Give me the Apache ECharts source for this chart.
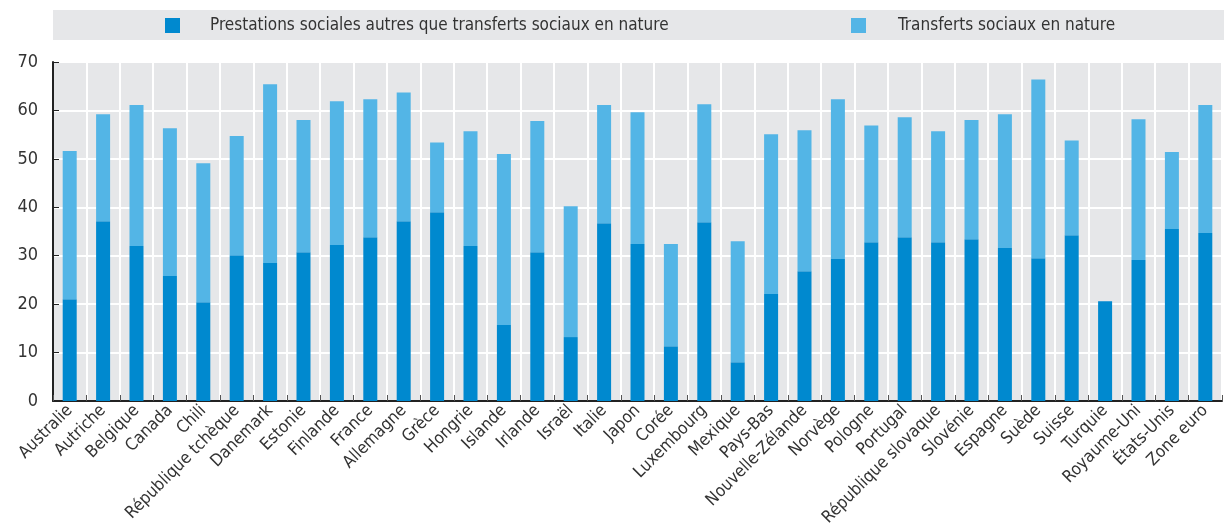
<!DOCTYPE html>
<html><head><meta charset="utf-8">
<script src="https://cdn.jsdelivr.net/npm/echarts@6/dist/echarts.min.js"></script>
<style>html,body{margin:0;padding:0;background:#fff}#c{width:1224px;height:531px}</style>
</head><body><div id="c"></div>
<script>
const categories = ["Australie","Autriche","Belgique","Canada","Chili","République tchèque","Danemark","Estonie","Finlande","France","Allemagne","Grèce","Hongrie","Islande","Irlande","Israël","Italie","Japon","Corée","Luxembourg","Mexique","Pays-Bas","Nouvelle-Zélande","Norvège","Pologne","Portugal","République slovaque","Slovénie","Espagne","Suède","Suisse","Turquie","Royaume-Uni","États-Unis","Zone euro"];
const prestations = [21.0,37.1,32.0,25.8,20.4,30.1,28.5,30.7,32.2,33.8,37.1,39.0,32.0,15.7,30.7,13.2,36.7,32.4,11.3,36.9,8.0,22.1,26.8,29.3,32.8,33.8,32.8,33.4,31.6,29.5,34.2,20.6,29.1,35.5,34.7];
const totals = [51.6,59.2,61.1,56.3,49.1,54.7,65.4,58.0,61.9,62.3,63.7,53.4,55.7,51.0,57.8,40.2,61.1,59.6,32.4,61.3,33.0,55.1,55.9,62.3,56.9,58.6,55.7,58.0,59.2,66.4,53.8,20.6,58.2,51.4,61.1];
const transferts = totals.map((t,i)=>Math.round((t-prestations[i])*10)/10);
const seriesNames = ["Prestations sociales autres que transferts sociaux en nature","Transferts sociaux en nature"];
const yTicks = [0,10,20,30,40,50,60,70];

const FONT = "'Liberation Sans Narrow','DejaVu Sans Condensed',sans-serif";
const chart = echarts.init(document.getElementById('c'), null, {renderer:'canvas'});
chart.setOption({
  animation:false,
  graphic:[{type:'rect', left:53, top:10, shape:{width:1171, height:30}, style:{fill:'#e6e7e9'}, z:-1}],
  legend:[
    {data:[seriesNames[0]], left:165, top:17, padding:0, itemWidth:15, itemHeight:15, icon:'rect',
     textStyle:{fontFamily:FONT, fontSize:17, color:'#333', padding:[0,0,0,25]}},
    {data:[seriesNames[1]], left:851, top:17, padding:0, itemWidth:15, itemHeight:15, icon:'rect',
     textStyle:{fontFamily:FONT, fontSize:17, color:'#333', padding:[0,0,0,27]}}
  ],
  grid:{left:53, right:2, top:62, bottom:130, show:true, backgroundColor:'#e6e7e9', borderWidth:0},
  xAxis:{type:'category', data:categories,
    axisLine:{lineStyle:{color:'#222', width:2}},
    axisTick:{show:true, inside:true, length:6, lineStyle:{color:'#555'}},
    splitLine:{show:true, lineStyle:{color:'#fff', width:2}},
    axisLabel:{rotate:45, interval:0, fontFamily:FONT, fontSize:17, color:'#333', margin:7}},
  yAxis:{type:'value', min:0, max:70, interval:10,
    axisLine:{show:true, lineStyle:{color:'#222', width:2}},
    axisTick:{show:true, inside:true, length:6, lineStyle:{color:'#222'}},
    splitLine:{show:true, lineStyle:{color:'#fff', width:2}},
    axisLabel:{fontFamily:FONT, fontSize:18, color:'#333', margin:15,
      formatter:v=>yTicks.includes(v)?String(v):''}},
  series:[
    {name:seriesNames[0], type:'bar', stack:'s', data:prestations, barWidth:14, itemStyle:{color:'#0089cf'}},
    {name:seriesNames[1], type:'bar', stack:'s', data:transferts, barWidth:14, itemStyle:{color:'#53b5e6'}}
  ]
});
</script></body></html>
